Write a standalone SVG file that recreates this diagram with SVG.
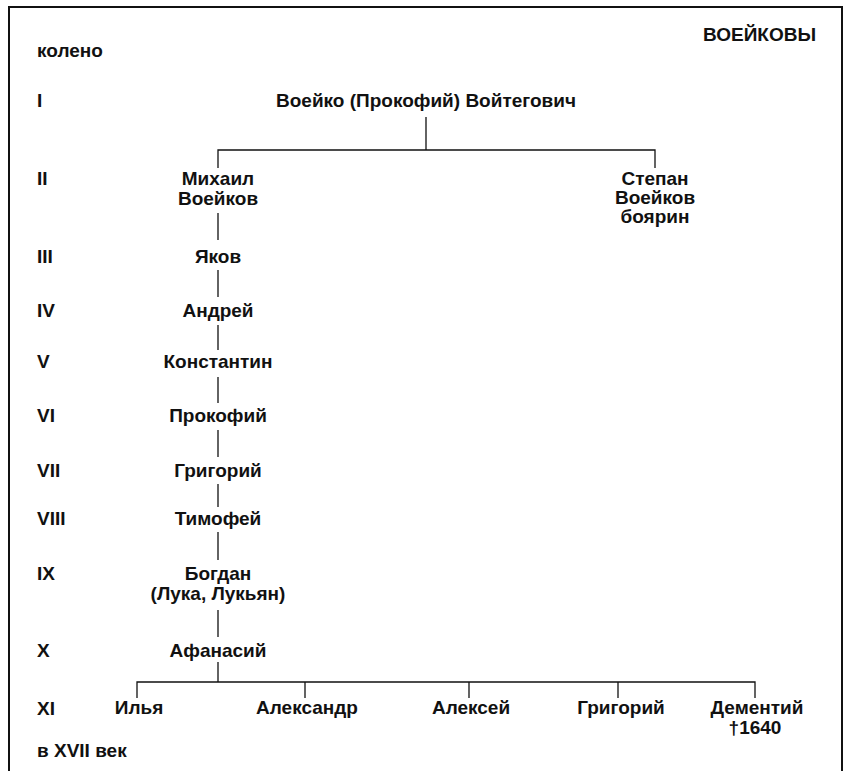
<svg xmlns="http://www.w3.org/2000/svg" width="846" height="771" viewBox="0 0 846 771">
<style>
text{font-family:"Liberation Sans",Arial,sans-serif;font-size:19px;font-weight:bold;fill:#111}
.c{text-anchor:middle}
.ln{stroke:#111;stroke-width:1.3;fill:none}
.frame{stroke:#111;stroke-width:2;fill:none}
</style>
<rect width="846" height="771" fill="#fff"/>
<path class="frame" d="M9,771 V7 H842 V771"/>
<g id="labels">
<text x="37" y="57">колено</text>
<text x="816" y="41" text-anchor="end">ВОЕЙКОВЫ</text>
<text x="37" y="107">I</text>
<text x="37" y="185">II</text>
<text x="37" y="263">III</text>
<text x="37" y="317">IV</text>
<text x="37" y="368">V</text>
<text x="37" y="422">VI</text>
<text x="37" y="477">VII</text>
<text x="37" y="525">VIII</text>
<text x="37" y="580">IX</text>
<text x="37" y="657">X</text>
<text x="37" y="715">XI</text>
<text x="37" y="757">в XVII век</text>
</g>
<g id="connectors">
<path class="ln" d="M426,117 V150 M218,168 V150 H655 V168"/>
<path class="ln" d="M218,213 V240 M218,270 V297 M218,325 V350 M218,377 V403 M218,430 V457 M218,484 V507 M218,532 V560 M218,610 V637 M218,662 V682"/>
<path class="ln" d="M137,698 V682 H755 V698 M305,682 V698 M469,682 V698 M618,682 V698"/>
</g>
<g id="n-voeiko"><text class="c" x="426" y="107">Воейко (Прокофий) Войтегович</text></g>
<g id="n-mikhail"><text class="c" x="218" y="185">Михаил</text><text class="c" x="218" y="205">Воейков</text></g>
<g id="n-stepan"><text class="c" x="655" y="185">Степан</text><text class="c" x="655" y="204">Воейков</text><text class="c" x="655" y="223">боярин</text></g>
<g id="n-yakov"><text class="c" x="218" y="263">Яков</text></g>
<g id="n-andrei"><text class="c" x="218" y="317">Андрей</text></g>
<g id="n-konstantin"><text class="c" x="218" y="368">Константин</text></g>
<g id="n-prokofii"><text class="c" x="218" y="422">Прокофий</text></g>
<g id="n-grigorii"><text class="c" x="218" y="477">Григорий</text></g>
<g id="n-timofei"><text class="c" x="218" y="525">Тимофей</text></g>
<g id="n-bogdan"><text class="c" x="218" y="580">Богдан</text><text class="c" x="218" y="600">(Лука,  Лукьян)</text></g>
<g id="n-afanasii"><text class="c" x="218" y="657">Афанасий</text></g>
<g id="n-ilya"><text class="c" x="139" y="714">Илья</text></g>
<g id="n-aleksandr"><text class="c" x="307" y="714">Александр</text></g>
<g id="n-aleksei"><text class="c" x="471" y="714">Алексей</text></g>
<g id="n-grigorii2"><text class="c" x="621" y="714">Григорий</text></g>
<g id="n-dementii"><text class="c" x="757" y="714">Дементий</text><text class="c" x="755" y="734">†1640</text></g>
</svg>
